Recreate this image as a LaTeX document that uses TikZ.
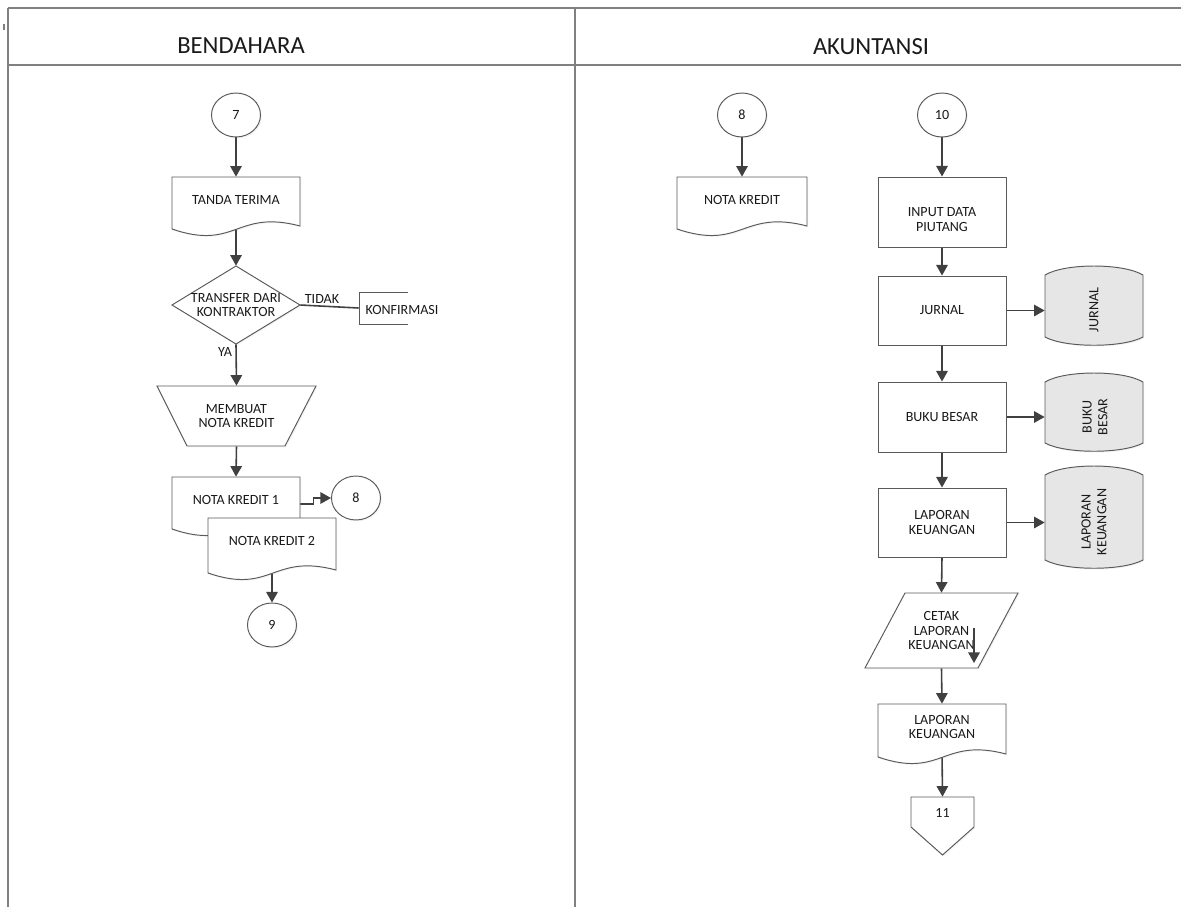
\documentclass[tikz,border=0pt]{standalone}
\usepackage{fontspec}
\setmainfont{Carlito}
\usetikzlibrary{arrows.meta,shapes.geometric,fit,shadows}
\definecolor{ln}{HTML}{404040}
\definecolor{ol}{HTML}{5A5A5A}
\definecolor{fr}{HTML}{808080}
\definecolor{dsk}{HTML}{E6E6E6}
\definecolor{tx}{HTML}{1A1A1A}
\pgfdeclarelayer{bg}
\pgfsetlayers{bg,main}

\tikzset{
  txt/.style={font=\fontsize{8}{8.5}\selectfont, text=tx, align=center, inner sep=0pt},
  outl/.style={draw=ol, line width=0.55pt, fill=white,
    drop shadow={shadow xshift=0.8pt, shadow yshift=-0.8pt, opacity=0.08}},
  area/.style={inner sep=0pt},
  intext/.style={label={[txt]center:#1}},
  conn/.style={draw=ln, line width=0.9pt},
  arr/.style={conn, -{Triangle[width=6.5pt,length=6pt]}},
  onpage/.style={ellipse, outl, minimum width=0.98cm, minimum height=0.88cm, txt},
  procbox/.style={outl, inner sep=0pt},
  lane/.style={draw=fr, line width=0.9pt},
  head/.style={font=\fontsize{14}{16}\selectfont, text=tx, inner sep=0pt},
}

% document symbol: x-left, x-right, top, bottom of the left edge (wavy base)
\newcommand\docshape[4]{%
  \path[outl] (#1,#3) -- (#2,#3) -- (#2,{#4-3})
    .. controls ({(#1+#2)/2},{#4-20}) and ({(#1+#2)/2},{#4+22}) .. (#1,#4) -- cycle;}
% stored data drum: x-left, x-right, top corner, bottom corner
\newcommand\cylshape[4]{%
  \path[outl, fill=dsk] (#1,#3) .. controls ({#1+20},{#3-12}) and ({#2-20},{#3-12}) .. (#2,#3)
    -- (#2,#4) .. controls ({#2-20},{#4+11}) and ({#1+20},{#4+11}) .. (#1,#4) -- cycle;}

\begin{document}
\begin{tikzpicture}[x=0.02cm,y=-0.02cm]
\useasboundingbox (0,0) rectangle (1181,907);

% swimlanes
\draw[lane] (8,8) -- (1181,8);
\draw[lane] (8,65) -- (1181,65);
\draw[lane] (8,8) -- (8,907);
\draw[lane] (575,8) -- (575,907);
\draw[draw=fr, line width=0.8pt] (4,24) -- (4,30);
\node[head] (hb) at (241,46) {BENDAHARA};
\node[head] (ha) at (871,47) {AKUNTANSI};

% ---------- BENDAHARA ----------
\node[onpage] (c7) at (236,115) {7};

\docshape{172}{300}{177}{229}
\node[area, fit={(172,177)(300,223)}, intext={TANDA TERIMA}] (tt) {};

\path[outl] (236,266) -- (300,305) -- (236,344) -- (172,305) -- cycle;
\node[area, fit={(172,266)(300,344)}, intext={TRANSFER DARI\\KONTRAKTOR}] (dec) {};

\draw[draw=ol, line width=0.55pt] (408,292) -- (359,292) -- (359,324) -- (408,324);
\node[area, fit={(359,292)(408,324)}] (konf) {};
\node[txt] (konft) at (402,310) {KONFIRMASI};

\node[txt] (tidak) at (322,299) {TIDAK};
\node[txt] (ya) at (225,352) {YA};

\path[outl] (157,386) -- (316,386) -- (285,446) -- (187,446) -- cycle;
\node[area, fit={(157,386)(316,446)}, intext={MEMBUAT\\NOTA KREDIT}] (trap) {};

\docshape{172}{300}{477}{529}
\node[area, fit={(172,477)(300,523)}, intext={NOTA KREDIT 1}] (nk1) {};
\docshape{208}{336}{518}{573}
\node[area, fit={(208,518)(336,564)}, intext={NOTA KREDIT 2}] (nk2) {};

\node[onpage] (c8a) at (356,498) {8};
\node[onpage] (c9) at (272,625) {9};

% ---------- AKUNTANSI ----------
\node[onpage] (c8b) at (742,115) {8};
\docshape{677}{807}{177}{229}
\node[area, fit={(677,177)(807,223)}, intext={NOTA KREDIT}] (nkr) {};

\node[onpage] (c10) at (942,115) {10};
\node[procbox, fit={(878,177)(1006,247)}] (inp) {};
\node[txt] (inpt) at (942,220) {INPUT DATA\\PIUTANG};
\node[procbox, fit={(878,276)(1006,345)}, intext={JURNAL}] (jur) {};
\node[procbox, fit={(878,382)(1006,452)}, intext={BUKU BESAR}] (bb) {};
\node[procbox, fit={(878,488)(1006,557)}, intext={LAPORAN\\KEUANGAN}] (lk) {};

\cylshape{1045}{1143}{275}{337}
\node[area, fit={(1045,266)(1143,345)}] (cj) {};
\node[txt, rotate=90] (cjt) at (1094,310) {JURNAL};
\cylshape{1045}{1143}{382}{443}
\node[area, fit={(1045,373)(1143,452)}] (cb) {};
\node[txt, rotate=90, font=\fontsize{8}{9}\selectfont] (cbt) at (1095,417) {BUKU\\BESAR};
\cylshape{1045}{1143}{475}{560}
\node[area, fit={(1045,465)(1143,568)}] (cl) {};
\node[txt, rotate=90, font=\fontsize{8}{9}\selectfont] (clt) at (1094,522) {LAPORAN\\KEUANGAN};

\path[outl] (905,593) -- (1018,593) -- (978,668) -- (865,668) -- cycle;
\node[area, fit={(865,593)(1018,668)}, intext={CETAK\\LAPORAN\\KEUANGAN}] (cetak) {};
\coordinate (sa) at (974,628);
\coordinate (sb) at (974,663);
\draw[arr] (sa) -- (sb);

\docshape{878}{1006}{704}{757}
\node[area, fit={(878,704)(1006,750)}, intext={LAPORAN\\KEUANGAN}] (lkd) {};

\path[outl] (911,797) -- (974,797) -- (974,827) -- (942.5,855) -- (911,827) -- cycle;
\node[area, fit={(911,797)(974,829)}, intext={11}] (off) {};

% ---------- connectors ----------
\begin{pgfonlayer}{bg}
\draw[arr] (c7.south) -- (tt.north);
\draw[arr] (tt.south) -- (dec.north);
\draw[conn] (dec.east) -- (konf.west);
\draw[arr] (dec.south) -- (trap.north);
\draw[arr] (trap.south) -- (nk1.north);
\draw[arr] ([yshift=-2.3pt]nk1.east) -- ++(13,0) |- (c8a.west);
\draw[arr] (nk2.south) -- (c9.north);

\draw[arr] (c8b.south) -- (nkr.north);
\draw[arr] (c10.south) -- (inp.north);
\draw[arr] (inp.south) -- (jur.north);
\draw[arr] (jur.south) -- (bb.north);
\draw[arr] (bb.south) -- (lk.north);
\draw[arr] (jur.east) -- (jur.east -| cj.west);
\draw[arr] (bb.east) -- (bb.east -| cb.west);
\draw[arr] (lk.east) -- (lk.east -| cl.west);
\draw[arr] (lk.south) -- (cetak.north);
\draw[arr] (cetak.south) -- (lkd.north);
\draw[arr] (lkd.south) -- (off.north);
\end{pgfonlayer}
\end{tikzpicture}
\end{document}
